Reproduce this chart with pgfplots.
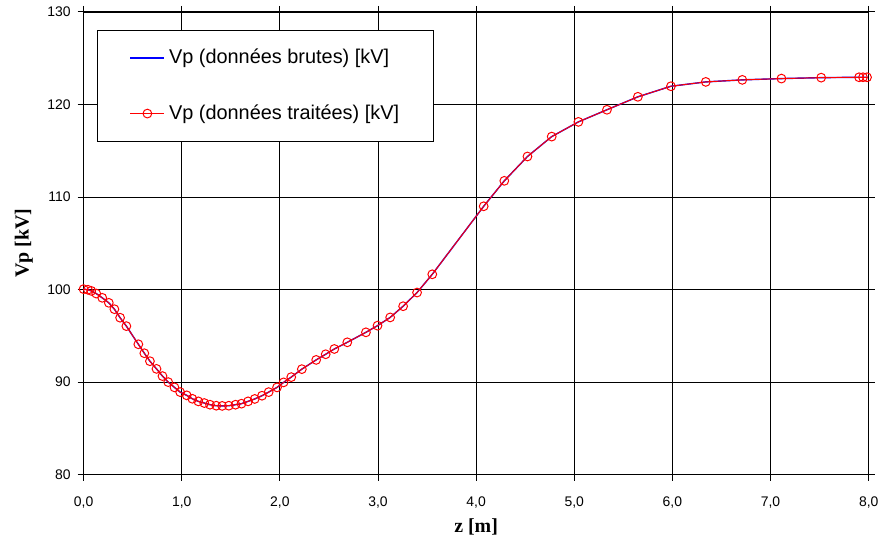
\documentclass[border=0pt]{standalone}
\usepackage{fontspec}
\setmainfont{Liberation Sans}
\newfontfamily\labfont{Liberation Serif}
\usepackage{pgfplots}
\pgfplotsset{compat=1.18}

\pgfplotstableread{
z V
0.000 100.05
0.044 99.98
0.078 99.86
0.129 99.57
0.190 99.11
0.257 98.57
0.314 97.88
0.372 96.96
0.436 96.05
0.558 94.09
0.619 93.12
0.676 92.26
0.743 91.43
0.804 90.65
0.862 90.00
0.926 89.43
0.984 88.92
1.051 88.57
1.108 88.20
1.169 87.92
1.230 87.74
1.288 87.56
1.352 87.45
1.412 87.43
1.480 87.45
1.548 87.56
1.609 87.67
1.676 87.92
1.744 88.18
1.818 88.53
1.886 88.92
1.971 89.43
2.038 89.97
2.116 90.54
2.224 91.40
2.370 92.40
2.467 93.01
2.555 93.58
2.687 94.30
2.877 95.38
2.995 96.10
3.124 96.99
3.256 98.20
3.398 99.68
3.553 101.65
4.077 109.00
4.287 111.75
4.523 114.38
4.770 116.53
5.042 118.12
5.333 119.43
5.648 120.83
5.985 121.97
6.340 122.44
6.712 122.66
7.111 122.80
7.516 122.90
7.902 122.94
7.942 122.94
7.983 122.94
}\traitees

\begin{document}
\begin{tikzpicture}
\begin{axis}[
  scale only axis,
  width=394.5pt, height=232.5pt,
  xmin=0, xmax=8, ymin=80, ymax=130,
  xtick={0,1,...,8}, ytick={80,90,...,130},
  grid=major,
  grid style={black, line width=0.5pt},
  axis line style={black, line width=0.6pt},
  tick align=outside, major tick length=3pt,
  tick style={black, line width=0.5pt},
  x tick label style={/pgf/number format/use comma, /pgf/number format/fixed,
    /pgf/number format/fixed zerofill, /pgf/number format/precision=1},
  /pgf/number format/assume math mode=true,
  tick label style={font=\fontsize{7}{8}\selectfont},
  xticklabel style={yshift=-4.5pt},
  xlabel={z [m]},
  ylabel={Vp [kV]},
  label style={font=\labfont\bfseries\fontsize{10}{12}\selectfont},
  xlabel style={at={(axis description cs:0.5,-0.113)}, anchor=center},
  ylabel style={at={(axis description cs:-0.076,0.5)}, anchor=center},
  legend style={at={(0.0177,0.961)}, anchor=north west,
    font=\fontsize{10}{12}\selectfont,
    row sep=15pt, inner xsep=16pt, inner ysep=7.5pt, legend cell align=left},
]
\addplot[color={rgb,255:red,0;green,0;blue,255}, line width=0.7pt] table[x=z, y=V] {\traitees};
\addplot[red, line width=0.5pt, mark=o, mark size=2.2pt,
  mark options={line width=0.5pt}] table[x=z, y=V] {\traitees};
\legend{\makebox[115pt][l]{Vp (données brutes) [kV]},
        \makebox[115pt][l]{Vp (données traitées) [kV]}}
\end{axis}
\path ([shift={(-42pt,-31.5pt)}]current axis.south west) rectangle ++(442.5pt,270pt);
\end{tikzpicture}
\end{document}
